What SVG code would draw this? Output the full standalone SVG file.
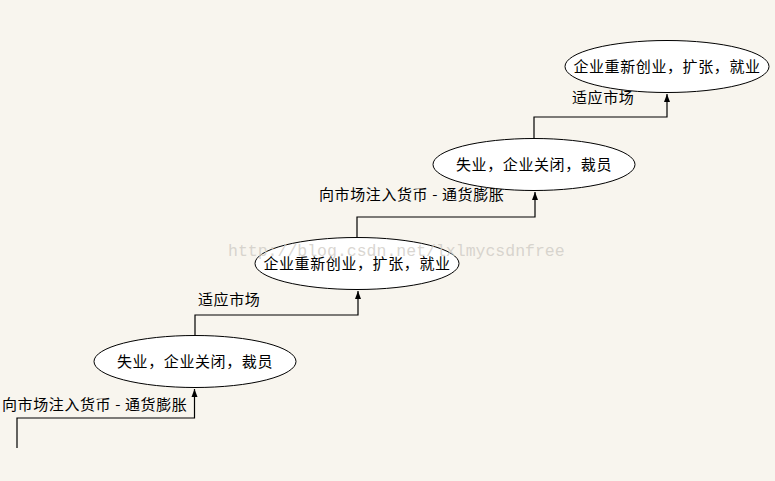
<svg xmlns="http://www.w3.org/2000/svg" width="775" height="481" viewBox="0 0 775 481">
<defs>
<style>
.bg{fill:#F8F5EE}
.node ellipse{fill:#FFFFFF;stroke:#000;stroke-width:1}
.t{font-family:"Noto Sans CJK SC","Liberation Sans",sans-serif;font-size:15px;fill:#000;letter-spacing:0.6px}
.c{text-anchor:middle}
.edge{fill:none;stroke:#000;stroke-width:1.2}
.wm{font-family:"Liberation Mono",monospace;font-size:16.5px;fill:#CFCBC5;fill-opacity:0.8}
</style>
<marker id="arr" viewBox="0 0 8 8" refX="8" refY="4" markerWidth="8" markerHeight="8" orient="auto" markerUnits="userSpaceOnUse">
<path d="M0,1 L8,4 L0,7 Z" fill="#000"/>
</marker>
</defs>
<rect class="bg" x="0" y="0" width="775" height="481"/>
<g id="connectors">
<path class="edge" d="M17,448 V418 H194.5 V389" marker-end="url(#arr)"/>
<path class="edge" d="M195,335 V315 H358 V291" marker-end="url(#arr)"/>
<path class="edge" d="M357,237 V217 H535 V192" marker-end="url(#arr)"/>
<path class="edge" d="M534,138 V117 H667 V94" marker-end="url(#arr)"/>
<text class="t" x="2" y="410">向市场注入货币 - 通货膨胀</text>
<text class="t" x="198" y="305">适应市场</text>
<text class="t" x="319" y="200">向市场注入货币 - 通货膨胀</text>
<text class="t" x="572" y="103">适应市场</text>
</g>
<g id="n1" class="node">
<ellipse cx="195" cy="361.5" rx="101" ry="26"/>
<text class="t c" x="195" y="367">失业，企业关闭，裁员</text>
</g>
<g id="n2" class="node">
<ellipse cx="357" cy="263.5" rx="102" ry="26"/>
<text class="t c" x="357" y="269">企业重新创业，扩张，就业</text>
</g>
<g id="n3" class="node">
<ellipse cx="534" cy="164.5" rx="101" ry="26"/>
<text class="t c" x="534" y="170">失业，企业关闭，裁员</text>
</g>
<g id="n4" class="node">
<ellipse cx="667" cy="66.5" rx="102" ry="26"/>
<text class="t c" x="667" y="72">企业重新创业，扩张，就业</text>
</g>
<text class="wm" x="228" y="256">http://blog.csdn.net/lxlmycsdnfree</text>
</svg>
